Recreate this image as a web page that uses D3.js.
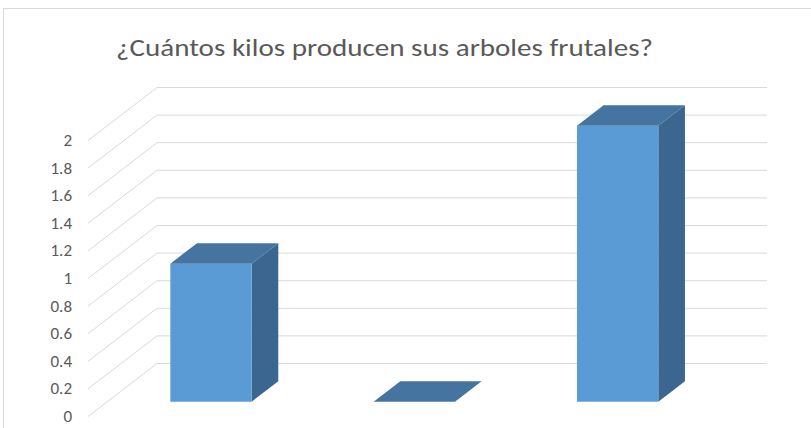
<!DOCTYPE html>
<html>
<head>
<meta charset="utf-8">
<script src="https://cdn.jsdelivr.net/npm/d3@7"></script>
<style>
  html, body { margin: 0; padding: 0; background: #fff; }
  svg { display: block; }
</style>
</head>
<body>
<svg id="chart" width="811" height="428"></svg>
<script>
// ---- data ----
const title = "¿Cuántos kilos producen sus arboles frutales?";
const categories = ["Categoría 1", "Categoría 2", "Categoría 3"];
const values = [1, 0, 2];
const tickValues = [0, 0.2, 0.4, 0.6, 0.8, 1, 1.2, 1.4, 1.6, 1.8, 2];
const tickLabels = ["0", "0.2", "0.4", "0.6", "0.8", "1", "1.2", "1.4", "1.6", "1.8", "2"];

// ---- layout ----
const W = 811, H = 428;
const depthDX = 69, depthDY = 53;     // perspective offset of full depth
const t0 = 0.28, t1 = 0.666;          // bar depth (front/back) fraction
const wall = [88, 698];               // front-plane x extent of the floor
const FONT = "Calibri, Carlito, Lato, 'Open Sans', sans-serif";

const svg = d3.select("#chart");

// chart border
svg.append("rect")
  .attr("x", 3.5).attr("y", 8.5)
  .attr("width", W + 10).attr("height", H + 10)
  .attr("fill", "#fff").attr("stroke", "#d9d9d9").attr("stroke-width", 1);

const x = d3.scaleBand().domain(categories).range([90, 700])
  .paddingInner(0.6).paddingOuter(0.3);
const y = d3.scaleLinear().domain([0, 2]).range([416.5, 140.5]);

function P(xf, v, t) { return [xf + t * depthDX, y(v) - t * depthDY]; }
const poly = pts => "M" + pts.map(p => p.join(",")).join("L") + "Z";

// gridlines: side wall diagonal + back wall horizontal
const grid = svg.append("g").attr("stroke", "#d9d9d9").attr("stroke-width", 1).attr("fill", "none");
tickValues.forEach(v => {
  const a = P(wall[0], v, 0), b = P(wall[0], v, 1), c = P(wall[1], v, 1);
  grid.append("path").attr("d", `M${a}L${b}L${c}`);
});

// tick labels
svg.append("g").selectAll("text").data(tickValues).join("text")
  .attr("x", 72).attr("y", d => y(d))
  .attr("text-anchor", "end").attr("dominant-baseline", "central")
  .attr("font-family", FONT)
  .attr("font-size", 17).attr("fill", "#595959")
  .text((d, i) => tickLabels[i]);

// bars
const bars = svg.append("g");
categories.forEach((c, i) => {
  const v = values[i];
  const x0 = x(c), x1 = x(c) + x.bandwidth();
  const g = bars.append("g");
  if (v > 0) {
    g.append("path").attr("d", poly([P(x1, 0, t0), P(x1, 0, t1), P(x1, v, t1), P(x1, v, t0)]))
      .attr("fill", "#3b6690");
    g.append("path").attr("d", poly([P(x0, 0, t0), P(x1, 0, t0), P(x1, v, t0), P(x0, v, t0)]))
      .attr("fill", "#5b9bd5");
  }
  g.append("path").attr("d", poly([P(x0, v, t0), P(x1, v, t0), P(x1, v, t1), P(x0, v, t1)]))
    .attr("fill", "#44749f");
});

// title
svg.append("text")
  .attr("x", 116).attr("y", 56)
  .attr("font-family", FONT).attr("font-weight", 300)
  .attr("font-size", 24).attr("fill", "#595959")
  .attr("textLength", 537).attr("lengthAdjust", "spacingAndGlyphs")
  .text(title);
</script>
</body>
</html>
